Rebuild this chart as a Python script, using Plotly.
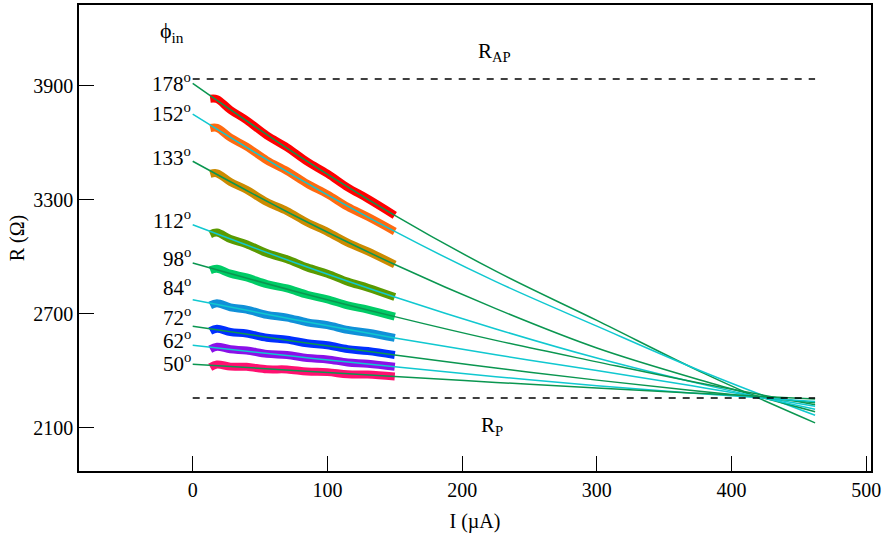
import plotly.graph_objects as go

# ---------------- data ----------------
angles = ["178", "152", "133", "112", "98", "84", "72", "62", "50"]

data_I = [13, 18, 28, 40, 55, 70, 85, 100, 115, 130, 150]
data_R = {
    "178": [3831, 3829, 3772, 3718, 3638, 3575, 3500, 3437, 3365, 3305, 3218],
    "152": [3677, 3678, 3626, 3579, 3507, 3451, 3384, 3328, 3263, 3210, 3133],
    "133": [3436, 3439, 3393, 3352, 3288, 3240, 3180, 3131, 3074, 3028, 2959],
    "112": [3118, 3127, 3093, 3066, 3019, 2987, 2944, 2911, 2869, 2837, 2788],
    "98":  [2929, 2937, 2911, 2891, 2856, 2833, 2800, 2776, 2744, 2722, 2685],
    "84":  [2744, 2755, 2734, 2722, 2694, 2680, 2655, 2640, 2615, 2600, 2573],
    "72":  [2609, 2621, 2604, 2596, 2574, 2564, 2545, 2534, 2514, 2504, 2483],
    "62":  [2514, 2527, 2513, 2507, 2489, 2483, 2467, 2460, 2444, 2437, 2421],
    "50":  [2419, 2433, 2422, 2421, 2408, 2407, 2396, 2393, 2382, 2380, 2370],
}

fit_I = [0, 75, 150, 225, 300, 380, 462]
fit_R = {
    "178": [3912, 3548, 3218, 2924, 2665, 2385, 2126],
    "152": [3750, 3427, 3133, 2869, 2635, 2391, 2166],
    "133": [3502, 3218, 2959, 2727, 2520, 2345, 2185],
    "112": [3168, 2971, 2788, 2620, 2467, 2326, 2198],
    "98":  [2967, 2820, 2685, 2560, 2447, 2330, 2222],
    "84":  [2774, 2670, 2573, 2484, 2401, 2310, 2214],
    "72":  [2634, 2556, 2483, 2415, 2351, 2290, 2232],
    "62":  [2535, 2476, 2421, 2369, 2321, 2278, 2238],
    "50":  [2435, 2402, 2370, 2339, 2310, 2280, 2252],
}

label_R = {"178": 3915, "152": 3756, "133": 3526, "112": 3195, "98": 2998,
           "84": 2841, "72": 2684, "62": 2566, "50": 2446}

data_colors = ["#ff0000", "#ff6a10", "#cc8a00", "#5a9a00", "#00cc66",
               "#1090d8", "#0030ff", "#8a10e8", "#ff1070"]
fit_colors = ["#0a9650", "#10c8d0"] * 5

R_AP = 3935
R_P = 2257
dash_I = [0, 462]

x_ticks = [0, 100, 200, 300, 400, 500]
y_ticks = [2100, 2700, 3300, 3900]

FONT = "Liberation Serif, Times New Roman, serif"

fig = go.Figure()

for k, a in enumerate(angles):
    fig.add_trace(go.Scatter(x=data_I, y=data_R[a], mode="lines",
                             line=dict(color=data_colors[k], width=8, shape="spline"),
                             showlegend=False, hoverinfo="skip"))
for k, a in enumerate(angles):
    fig.add_trace(go.Scatter(x=fit_I, y=fit_R[a], mode="lines",
                             line=dict(color=fit_colors[k], width=1.5, shape="spline"),
                             showlegend=False, hoverinfo="skip"))

for r in (R_AP, R_P):
    fig.add_trace(go.Scatter(x=dash_I, y=[r, r], mode="lines",
                             line=dict(color="black", width=1.5, dash="7px,7px"),
                             showlegend=False, hoverinfo="skip"))

annotations = []
for a in angles:
    annotations.append(dict(x=0, y=label_R[a], xref="x", yref="y",
                            text=f"{a}<sup>o</sup>", showarrow=False,
                            xanchor="right", yanchor="middle",
                            font=dict(family=FONT, size=21, color="black")))
annotations.append(dict(x=-15, y=4180, xref="x", yref="y", text="ϕ<sub>in</sub>",
                        showarrow=False, xanchor="center", yanchor="middle",
                        font=dict(family=FONT, size=22, color="black")))
annotations.append(dict(x=224, y=4075, xref="x", yref="y", text="R<sub>AP</sub>",
                        showarrow=False, xanchor="center", yanchor="middle",
                        font=dict(family=FONT, size=21, color="black")))
annotations.append(dict(x=222, y=2112, xref="x", yref="y", text="R<sub>P</sub>",
                        showarrow=False, xanchor="center", yanchor="middle",
                        font=dict(family=FONT, size=21, color="black")))

fig.update_layout(
    width=884, height=546,
    margin=dict(l=79, r=13, t=3, b=75),
    paper_bgcolor="white", plot_bgcolor="white",
    font=dict(family=FONT, size=20, color="black"),
    annotations=annotations,
    showlegend=False,
)
fig.update_xaxes(range=[-84.4, 503.5], tickvals=x_ticks, ticks="inside", ticklen=15,
                 tickwidth=1.2, tickcolor="black", showline=True, linecolor="black",
                 linewidth=1.5, mirror=True, showgrid=False, zeroline=False,
                 title=dict(text="I (µA)", font=dict(family=FONT, size=20), standoff=14),
                 tickfont=dict(family=FONT, size=20))
fig.update_yaxes(range=[1873, 4324], tickvals=y_ticks, ticks="inside", ticklen=15,
                 tickwidth=1.2, tickcolor="black", showline=True, linecolor="black",
                 linewidth=1.5, mirror=True, showgrid=False, zeroline=False,
                 title=dict(text="R (Ω)", font=dict(family=FONT, size=20), standoff=3),
                 tickfont=dict(family=FONT, size=20))

fig.write_html("out.html")
